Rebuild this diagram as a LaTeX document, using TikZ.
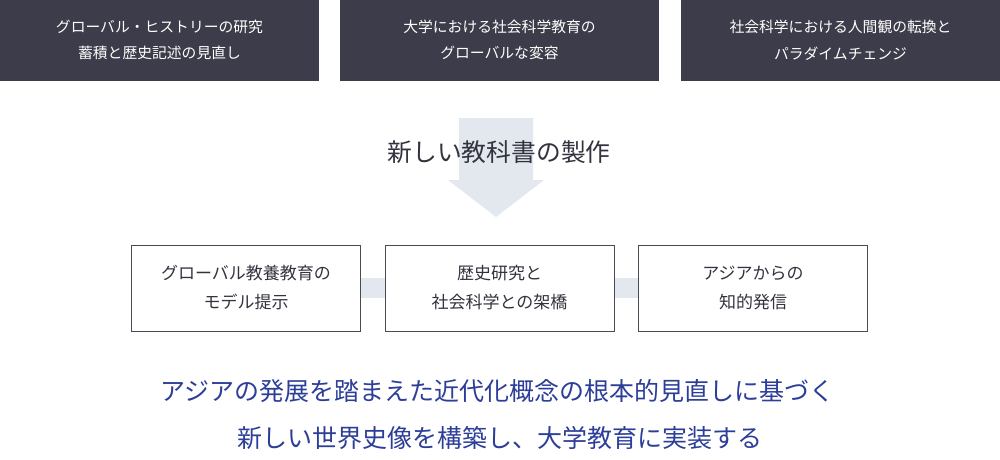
\documentclass[tikz,border=0pt]{standalone}
\usepackage{fontspec}
\setmainfont{Noto Sans CJK JP}
\definecolor{darkbox}{HTML}{3D3C4A}
\definecolor{arrowc}{HTML}{E3E8EE}
\definecolor{titlec}{HTML}{33333F}
\definecolor{boxline}{HTML}{4A4A55}
\definecolor{bluet}{HTML}{2C3E98}
\tikzset{
  darknode/.style={fill=darkbox, draw=none, minimum width=319pt, minimum height=82pt, inner sep=0pt,
    text=white, align=center, font=\fontsize{14.8}{26.5}\selectfont},
  lightnode/.style={fill=white, draw=boxline, line width=1pt, minimum width=229pt, minimum height=86pt, inner sep=0pt,
    text=titlec, align=center, font=\fontsize{17}{29}\selectfont},
  bar/.style={fill=arrowc, draw=none},
  bluetext/.style={text=bluet, font=\fontsize{25}{30}\selectfont, inner sep=0pt}
}
\begin{document}
\begin{tikzpicture}[x=1pt,y=-1pt]
\useasboundingbox (0,0) rectangle (1000,459);
% top dark boxes
\node[darknode] (t1) at (159.5,40) {グローバル・ヒストリーの研究\\蓄積と歴史記述の見直し};
\node[darknode] (t2) at (499.5,40) {大学における社会科学教育の\\グローバルな変容};
\node[darknode] (t3) at (840.5,40) {社会科学における人間観の転換と\\パラダイムチェンジ};
% big arrow
\fill[arrowc] (459,118) -- (533,118) -- (533,180) -- (544,180) -- (496,217) -- (448,180) -- (459,180) -- cycle;
\node[text=titlec, font=\fontsize{24.8}{28}\selectfont, inner sep=0pt] (title) at (499,152) {新しい教科書の製作};
% connector bars
\fill[bar] (361,278) rectangle (385,298);
\fill[bar] (615,278) rectangle (638,298);
% middle boxes
\node[lightnode] (m1) at (246,288) {グローバル教養教育の\\モデル提示};
\node[lightnode] (m2) at (499.5,288) {歴史研究と\\社会科学との架橋};
\node[lightnode] (m3) at (753,288) {アジアからの\\知的発信};
% bottom text
\node[bluetext] (b1) at (497.5,391) {アジアの発展を踏まえた近代化概念の根本的見直しに基づく};
\node[bluetext] (b2) at (500,438) {新しい世界史像を構築し、大学教育に実装する};
\end{tikzpicture}
\end{document}
